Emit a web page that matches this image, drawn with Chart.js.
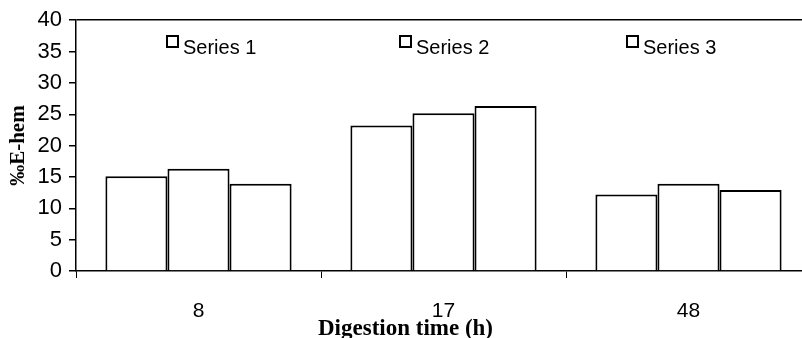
<!DOCTYPE html>
<html>
<head>
<meta charset="utf-8">
<script src="https://cdn.jsdelivr.net/npm/chart.js@4"></script>
<style>
  html, body { margin: 0; padding: 0; overflow: hidden; background: #fff; }
  #wrap { position: absolute; left: 0; top: 0; width: 812px; height: 346px; }
</style>
</head>
<body>
<div id="wrap"><canvas id="myChart" width="812" height="346"></canvas></div>
<script>
  // chart data
  var categories = ['8', '17', '48'];
  var seriesNames = ['Series 1', 'Series 2', 'Series 3'];
  var series1 = [15.1, 23.2, 12.2];
  var series2 = [16.3, 25.15, 13.9];
  var series3 = [13.9, 26.3, 12.9];
  var yTicks = [0, 5, 10, 15, 20, 25, 30, 35, 40];

  var sans = "'Liberation Sans', Arial, sans-serif";
  var serif = "'Liberation Serif', 'Times New Roman', serif";

  // legend sits inside the plot, items spread out, text cut at the bottom
  var legendOffsets = [91, 324, 551];
  var spreadLegend = {
    id: 'spreadLegend',
    afterDraw: function (chart) {
      var c = chart.ctx, area = chart.chartArea;
      c.save();
      c.beginPath();
      c.rect(area.left + 2, area.top + 2, area.right - area.left, 54 - area.top - 2);
      c.clip();
      chart.data.datasets.forEach(function (ds, i) {
        var x = area.left + legendOffsets[i];
        c.fillStyle = '#fff';
        c.strokeStyle = '#000';
        c.lineWidth = 2;
        c.fillRect(x, 36, 11, 11);
        c.strokeRect(x, 36, 11, 11);
        c.fillStyle = '#000';
        c.font = '20px ' + sans;
        c.textBaseline = 'top';
        c.fillText(ds.label, x + 16, 38);
      });
      c.restore();
    }
  };

  var data = {
    labels: categories,
    datasets: [series1, series2, series3].map(function (vals, i) {
      return {
        label: seriesNames[i],
        data: vals,
        backgroundColor: '#fff',
        borderColor: '#000',
        borderWidth: 2,
        categoryPercentage: 0.76,
        barPercentage: 1
      };
    })
  };

  var ctx = document.getElementById('myChart').getContext('2d');
  var myChart = new Chart(ctx, {
    type: 'bar',
    data: data,
    plugins: [spreadLegend],
    options: {
      responsive: false,
      animation: false,
      layout: { padding: { top: 16, right: 1, left: 0, bottom: 0 } },
      plugins: {
        legend: { display: false },
        tooltip: { enabled: false },
        title: {
          display: true,
          position: 'bottom',
          text: 'Digestion time (h)',
          color: '#000',
          font: { family: serif, size: 23, weight: 'bold', lineHeight: 1.2 },
          padding: { top: -6, bottom: 2.7 }
        }
      },
      scales: {
        x: {
          grid: {
            offset: true,
            drawOnChartArea: false,
            tickColor: '#000',
            tickLength: 7,
            tickWidth: 1
          },
          border: { color: '#000', width: 1.5 },
          ticks: { color: '#000', padding: 21, font: { family: sans, size: 21 } },
          afterFit: function (scale) { scale.height = 346 - 24.3 - 271; }
        },
        y: {
          min: 0,
          max: 40,
          afterBuildTicks: function (scale) {
            scale.ticks = yTicks.map(function (v) { return { value: v }; });
          },
          grid: {
            color: function (c) { return c.tick && c.tick.value === 40 ? '#000' : 'rgba(0,0,0,0)'; },
            lineWidth: 1.5,
            tickColor: '#000',
            tickLength: 7
          },
          border: { color: '#000', width: 1.5 },
          ticks: { color: '#000', padding: 7, font: { family: sans, size: 22 } },
          title: {
            display: true,
            text: '‰E-hem',
            color: '#000',
            font: { family: serif, size: 21, weight: 'bold', lineHeight: 1.2 },
            padding: { top: 6, bottom: 0 }
          },
          afterFit: function (scale) { scale.width = 76; }
        }
      }
    }
  });
</script>
</body>
</html>
